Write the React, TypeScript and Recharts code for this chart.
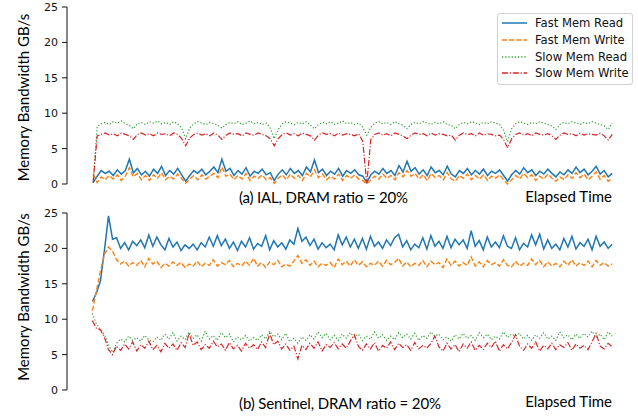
import React from 'react';
import { LineChart, Line, XAxis, YAxis } from 'recharts';

const Y_TICKS = [0, 5, 10, 15, 20, 25];
const SERIES_NAMES = ['Fast Mem Read', 'Fast Mem Write', 'Slow Mem Read', 'Slow Mem Write'];
const PANEL_TITLES = ['(a) IAL, DRAM ratio = 20%', '(b) Sentinel, DRAM ratio = 20%'];
const X_LABEL = 'Elapsed Time';
const Y_LABEL = 'Memory Bandwidth GB/s';

// (a) IAL
const ialFastRead = [0.2,1.1,1.9,1.5,1.8,1.2,2.0,1.4,1.9,3.5,1.6,2.2,1.3,1.8,1.1,2.1,1.5,2.5,1.2,1.9,1.4,2.2,1.3,0.4,1.2,1.9,1.5,2.1,1.3,1.8,2.4,1.6,3.5,1.8,2.2,1.2,1.9,1.4,2.3,1.1,1.8,1.5,2.1,1.3,1.6,0.5,1.4,2.0,1.3,2.2,1.5,1.9,1.2,2.4,1.7,3.4,1.6,2.1,1.2,1.8,1.4,2.2,1.1,1.9,1.5,2.0,1.3,1.1,0.2,1.3,1.8,1.4,2.2,1.5,1.9,1.2,2.6,1.7,3.2,1.8,2.3,1.4,2.0,1.2,2.4,1.6,1.9,1.3,2.5,1.4,1.0,1.9,1.5,2.2,1.3,1.9,1.4,2.1,1.2,1.8,1.5,2.0,1.2,0.4,1.3,1.9,1.4,2.3,1.6,2.0,1.2,1.8,1.4,2.1,1.5,1.0,1.7,1.3,2.0,1.5,2.4,1.6,2.1,1.3,1.8,2.5,1.4,1.9,1.0,1.5];
const ialFastWrite = [1.4,0.2,1.0,0.6,1.2,0.7,1.3,0.5,1.1,2.3,1.0,1.5,0.6,1.2,0.5,1.3,0.8,1.6,0.6,1.1,0.7,1.4,0.8,0.1,0.7,1.2,0.6,1.3,0.7,1.1,1.5,0.9,2.4,1.1,1.4,0.6,1.2,0.7,1.5,0.5,1.1,0.8,1.3,0.6,0.9,0.1,0.8,1.3,0.6,1.4,0.8,1.2,0.5,1.5,1.0,2.0,0.9,1.4,0.6,1.1,0.7,1.4,0.5,1.2,0.8,1.3,0.7,0.5,0.0,0.6,1.1,0.7,1.4,0.8,1.2,0.6,1.6,1.0,1.9,1.1,1.5,0.7,1.3,0.5,1.5,0.9,1.2,0.6,1.6,0.7,0.4,1.2,0.8,1.4,0.6,1.2,0.7,1.3,0.5,1.1,0.8,1.3,0.6,0.0,0.6,1.2,0.7,1.5,0.9,1.3,0.5,1.1,0.7,1.4,0.8,0.4,1.0,0.6,1.3,0.8,1.6,0.9,1.4,0.6,1.1,1.7,0.7,1.2,0.4,0.8];
const ialSlowRead = [0.2,8.1,8.5,8.7,8.4,8.8,8.6,8.9,8.5,8.3,7.8,8.5,8.7,8.4,8.8,8.6,8.9,8.5,8.7,8.4,8.8,8.5,7.9,6.4,7.9,8.5,8.8,8.6,8.4,8.7,8.5,8.3,7.9,8.4,8.7,8.5,8.8,8.4,8.6,8.9,8.5,8.7,8.4,8.6,7.9,6.4,7.7,8.5,8.8,8.6,8.4,8.7,8.5,8.8,8.3,7.8,8.4,8.7,8.5,8.8,8.4,8.6,8.9,8.5,8.7,8.4,8.6,8.0,6.9,8.0,8.6,8.8,8.5,8.7,8.4,8.8,8.5,8.3,7.8,8.4,8.7,8.5,8.8,8.6,8.4,8.7,8.5,8.8,8.4,8.3,7.8,8.4,8.7,8.5,8.8,8.6,8.4,8.7,8.5,8.8,8.6,8.4,7.6,6.0,7.8,8.5,8.8,8.6,8.4,8.7,8.5,8.8,8.6,8.4,8.2,7.7,8.4,8.7,8.5,8.8,8.6,8.4,8.7,8.5,8.8,8.6,8.4,8.2,7.7,8.6];
const ialSlowWrite = [0.2,6.8,7.0,7.2,6.9,7.1,6.8,7.2,7.0,6.8,6.3,7.0,7.2,6.9,7.1,6.8,7.2,7.0,7.1,6.8,7.2,7.0,6.4,5.4,6.5,7.0,7.2,6.9,7.1,6.8,7.2,6.9,6.3,6.9,7.2,7.0,7.1,6.8,7.2,7.0,6.9,7.2,7.0,6.8,6.4,5.4,6.4,7.0,7.2,6.9,7.1,6.8,7.2,7.0,6.8,6.2,6.9,7.2,7.0,7.1,6.8,7.2,6.9,7.1,7.0,6.8,7.1,6.0,0.1,6.3,7.0,7.2,6.9,7.1,6.8,7.2,7.0,6.8,6.4,6.9,7.2,7.0,7.1,6.8,7.2,6.9,7.1,7.0,6.8,6.9,6.2,6.9,7.2,7.0,7.1,6.8,7.2,6.9,7.1,7.0,6.8,6.9,6.3,5.1,6.4,7.0,7.2,6.9,7.1,6.8,7.2,7.0,6.9,7.1,6.8,6.3,6.9,7.2,7.0,7.1,6.8,7.2,6.9,7.1,7.0,6.9,7.2,6.8,6.2,7.0];

// (b) Sentinel
const senFastRead = [12.5,13.7,15.4,19.8,24.6,21.3,21.5,20.0,20.8,19.8,21.0,20.4,21.2,20.1,21.9,20.3,21.6,20.5,19.8,21.4,20.2,20.9,19.7,20.5,20.0,20.6,19.8,20.8,20.2,21.6,20.3,21.8,20.4,21.3,20.0,20.9,19.7,21.0,20.2,21.5,19.9,20.7,20.3,21.8,19.8,21.1,20.2,20.8,19.9,21.2,20.6,22.8,21.0,21.6,20.4,21.3,19.9,20.8,20.1,20.6,19.8,21.9,20.5,21.6,20.2,21.3,20.0,21.4,19.9,21.7,20.3,20.9,20.0,21.2,20.4,21.5,22.0,20.2,21.1,19.8,20.6,20.1,21.5,19.9,21.8,20.3,21.0,20.0,21.7,20.1,21.3,20.5,21.2,20.0,22.5,20.3,21.1,19.8,21.6,20.2,20.9,20.1,21.8,20.3,20.0,21.5,19.8,20.7,20.2,21.9,20.5,22.0,19.9,21.2,20.0,20.6,19.8,21.4,20.2,21.7,19.9,20.8,20.3,21.3,19.8,21.7,20.3,20.9,20.0,20.6];
const senFastWrite = [11.2,14.0,16.8,19.2,20.2,19.6,18.4,17.8,18.2,17.5,18.0,17.6,18.3,17.4,18.6,17.8,18.2,17.3,17.9,17.5,18.1,17.6,18.0,17.3,17.8,17.5,18.2,17.4,17.9,17.6,18.4,17.5,18.0,17.7,18.3,17.4,17.9,17.5,18.2,17.6,18.6,17.5,18.0,17.3,18.1,17.7,18.3,17.4,17.8,17.5,18.2,19.0,17.9,18.4,17.6,18.2,17.4,17.9,17.6,18.0,17.3,18.5,17.7,18.2,17.5,18.4,17.6,18.1,17.4,17.9,17.6,18.2,17.5,18.3,17.7,18.0,18.6,17.5,18.1,17.4,17.9,17.6,18.3,17.4,18.2,17.7,18.0,17.3,18.5,17.6,18.2,17.5,18.0,17.6,18.8,17.5,18.1,17.4,18.3,17.7,18.0,17.5,18.4,17.6,17.4,18.2,17.5,17.9,17.6,18.5,17.7,18.3,17.4,18.1,17.5,17.9,17.4,18.2,17.6,18.4,17.5,18.0,17.6,18.2,17.4,18.3,17.6,18.0,17.5,17.8];
const senSlowRead = [10.8,9.3,8.6,7.8,6.4,5.3,6.6,7.2,6.8,7.6,7.0,7.4,6.9,7.7,7.1,6.8,7.5,7.0,7.9,7.2,8.1,6.9,7.6,7.1,8.2,7.3,7.8,6.9,8.3,7.2,7.7,7.0,8.1,7.4,7.9,6.8,7.5,7.1,7.7,6.9,7.4,7.0,7.8,7.2,8.3,7.5,7.9,7.1,8.0,6.8,7.3,6.6,7.5,7.0,7.8,7.2,8.2,7.4,8.0,7.1,7.7,7.0,7.9,7.3,8.1,7.5,7.9,7.0,7.6,7.2,8.2,7.3,7.8,7.0,7.6,7.1,8.1,7.4,7.9,7.2,8.0,7.0,7.7,7.3,8.2,7.6,7.9,7.1,7.5,6.9,7.8,7.2,8.0,7.3,7.7,7.0,8.1,7.4,7.9,7.1,7.6,7.2,8.2,7.4,7.9,7.6,8.0,7.2,7.7,7.0,7.8,7.3,8.1,7.2,7.6,7.0,8.2,7.4,7.8,7.1,7.9,7.3,8.0,7.5,8.3,7.4,7.9,7.1,8.2,7.6];
const senSlowWrite = [9.8,8.7,8.5,7.4,5.7,5.0,6.2,5.6,6.5,5.8,6.8,5.5,6.4,5.9,6.9,5.7,6.3,5.4,6.6,5.9,6.5,5.6,6.7,6.0,8.0,6.3,6.8,5.7,6.4,5.9,6.9,6.1,6.5,5.6,6.7,5.8,6.3,5.5,6.6,5.9,6.4,5.7,6.8,6.0,8.0,6.4,6.9,5.8,6.5,5.6,6.2,4.4,6.3,5.7,6.6,5.9,6.8,5.5,6.4,6.0,6.7,5.8,6.5,5.9,6.9,7.8,6.2,5.6,6.5,5.8,6.7,5.5,6.3,5.9,6.8,5.7,6.6,6.0,6.4,5.6,6.7,5.8,6.3,5.9,6.6,7.6,6.1,5.5,6.6,5.8,6.4,5.4,6.5,5.9,6.8,5.6,6.3,5.7,6.6,6.0,6.9,5.5,6.4,5.8,6.7,7.8,6.2,5.6,6.5,5.9,6.8,5.5,6.3,5.8,6.6,5.7,6.4,6.0,6.7,5.6,6.5,5.9,6.3,5.7,6.8,8.0,6.2,5.8,6.6,6.1];

const SERIES_STYLE = [
  { key: 'fr', color: '#1f77b4', dash: undefined as string | undefined, width: 1.5 },
  { key: 'fw', color: '#ff7f0e', dash: '5 2.2', width: 1.4 },
  { key: 'sr', color: '#2ca02c', dash: '1.2 2', width: 1.2 },
  { key: 'sw', color: '#d62728', dash: '6 1.8 1.2 1.8', width: 1.2 },
];

function buildRows(a: number[], b: number[], c: number[], d: number[]) {
  return a.map((v, i) => ({ t: i, fr: v, fw: b[i], sr: c[i], sw: d[i] }));
}

const ialRows = buildRows(ialFastRead, ialFastWrite, ialSlowRead, ialSlowWrite);
const senRows = buildRows(senFastRead, senFastWrite, senSlowRead, senSlowWrite);

const FONT_TICK = '"DejaVu Sans", sans-serif';
const FONT_LABEL = 'Lato, "Open Sans", sans-serif';

function Panel({ data, top, domain }: { data: any[]; top: number; domain: [number, number] }) {
  return (
    <div style={{ position: 'absolute', left: 0, top, width: 638, height: 210 }}>
      <LineChart width={638} height={210} data={data} margin={{ top: 7, right: 0, bottom: 26, left: 0 }}>
        <XAxis
          dataKey="t"
          type="number"
          domain={domain}
          allowDataOverflow
          tick={false}
          tickLine={false}
          height={0}
          axisLine={{ stroke: '#111', strokeWidth: 1 }}
        />
        <YAxis
          domain={[0, 25]}
          ticks={Y_TICKS}
          width={67}
          tickSize={5}
          tickMargin={4}
          axisLine={{ stroke: '#111', strokeWidth: 1 }}
          tickLine={{ stroke: '#111' }}
          tick={{ fill: '#111', fontSize: 11, fontFamily: FONT_TICK }}
        />
        {SERIES_STYLE.map((s, i) => (
          <Line
            key={s.key}
            dataKey={s.key}
            name={SERIES_NAMES[i]}
            type="linear"
            stroke={s.color}
            strokeWidth={s.width}
            strokeDasharray={s.dash}
            dot={false}
            activeDot={false}
            isAnimationActive={false}
          />
        ))}
      </LineChart>
    </div>
  );
}

function LegendBox() {
  return (
    <div
      style={{
        position: 'absolute',
        left: 497,
        top: 13,
        width: 134,
        height: 70,
        border: '1px solid #d0d0d0',
        borderRadius: 3,
        background: 'rgba(255,255,255,0.85)',
      }}
    >
      {SERIES_NAMES.map((name, i) => {
        const s = SERIES_STYLE[i];
        const cy = 9 + i * 16.8;
        return (
          <div key={name} style={{ position: 'absolute', left: 0, top: cy - 8, height: 16, width: 134 }}>
            <svg width={30} height={16} style={{ position: 'absolute', left: 3, top: 0 }}>
              <line x1={1} y1={8} x2={26} y2={8} stroke={s.color} strokeWidth={1.5} strokeDasharray={s.dash} />
            </svg>
            <span
              style={{
                position: 'absolute',
                left: 37,
                top: 0,
                lineHeight: '16px',
                fontSize: 11.6,
                fontFamily: FONT_TICK,
                color: '#111',
                whiteSpace: 'nowrap',
              }}
            >
              {name}
            </span>
          </div>
        );
      })}
    </div>
  );
}

export default function App() {
  return (
    <div style={{ position: 'absolute', left: 0, top: 0, width: 638, height: 416, background: '#fff', overflow: 'hidden' }}>
      <Panel data={ialRows} top={0} domain={[-6.5, 135.4]} />
      <Panel data={senRows} top={206} domain={[-6.3, 135.4]} />
      <LegendBox />
      <svg width={638} height={416} style={{ position: 'absolute', left: 0, top: 0, pointerEvents: 'none' }}>
        <g fontFamily={FONT_LABEL} fontSize={15} fill="#000">
          <text x={23} y={97.5} transform="rotate(-90 23 97.5)" textAnchor="middle" dominantBaseline="central">{Y_LABEL}</text>
          <text x={23} y={297} transform="rotate(-90 23 297)" textAnchor="middle" dominantBaseline="central">{Y_LABEL}</text>
          <text x={239} y={197} dominantBaseline="central" textLength={169}>{PANEL_TITLES[0]}</text>
          <text x={612} y={196} textAnchor="end" dominantBaseline="central">{X_LABEL}</text>
          <text x={239} y={403} dominantBaseline="central" textLength={202}>{PANEL_TITLES[1]}</text>
          <text x={612} y={401} textAnchor="end" dominantBaseline="central">{X_LABEL}</text>
        </g>
      </svg>
    </div>
  );
}
